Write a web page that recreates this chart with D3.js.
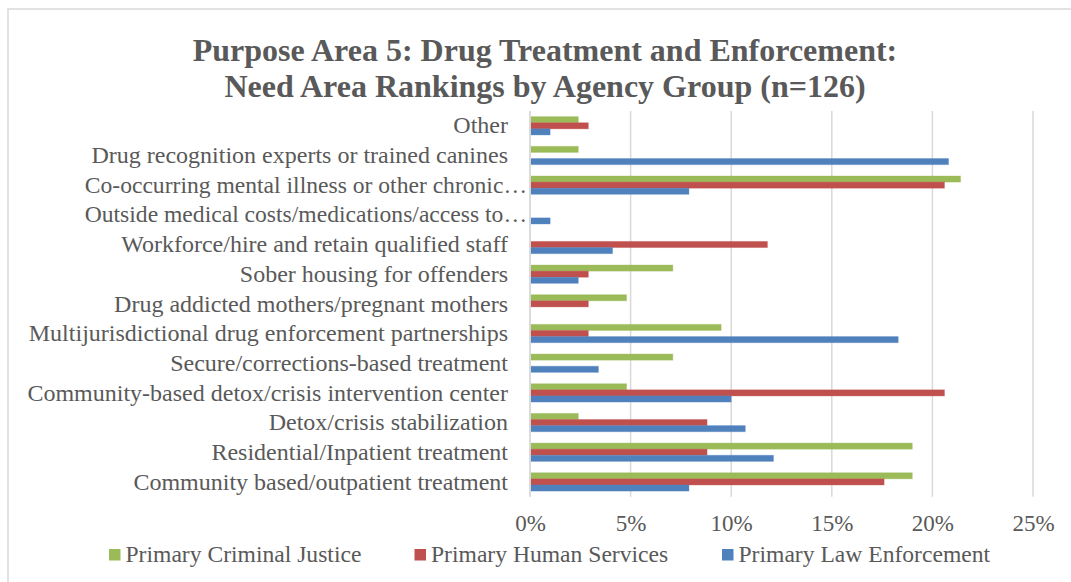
<!DOCTYPE html>
<html><head><meta charset="utf-8">
<script src="https://cdn.jsdelivr.net/npm/d3@7"></script>
<style>
html,body{margin:0;padding:0;background:#fff;}
svg text{font-family:"Liberation Serif","Times New Roman",serif;fill:#595959;}
</style></head>
<body>
<svg id="c" width="1071" height="582"></svg>
<script>
const categories = [
  "Other",
  "Drug recognition experts or trained canines",
  "Co-occurring mental illness or other chronic…",
  "Outside medical costs/medications/access to…",
  "Workforce/hire and retain qualified staff",
  "Sober housing for offenders",
  "Drug addicted mothers/pregnant mothers",
  "Multijurisdictional drug enforcement partnerships",
  "Secure/corrections-based treatment",
  "Community-based detox/crisis intervention center",
  "Detox/crisis stabilization",
  "Residential/Inpatient treatment",
  "Community based/outpatient treatment"
];
const seriesNames = ["Primary Criminal Justice", "Primary Human Services", "Primary Law Enforcement"];
const criminalJustice = [2.4, 2.4, 21.4, 0, 0, 7.1, 4.8, 9.5, 7.1, 4.8, 2.4, 19.0, 19.0];
const humanServices   = [2.9, 0, 20.6, 0, 11.8, 2.9, 2.9, 2.9, 0, 20.6, 8.8, 8.8, 17.6];
const lawEnforcement  = [1.0, 20.8, 7.9, 1.0, 4.1, 2.4, 0, 18.3, 3.4, 10.0, 10.7, 12.1, 7.9];
const xTicks = [0, 5, 10, 15, 20, 25];
const colors = ["#9BBB59", "#C0504D", "#4F81BD"];
const titleLines = ["Purpose Area 5: Drug Treatment and Enforcement:", "Need Area Rankings by Agency Group (n=126)"];

const svg = d3.select("#c");
const seriesData = [criminalJustice, humanServices, lawEnforcement];

// chart border
svg.append("rect").attr("x", 8).attr("y", 9).attr("width", 1100).attr("height", 600)
  .attr("fill", "#fff").attr("stroke", "#d9d9d9").attr("stroke-width", 1.5);

const pLeft = 530, pRight = 1033, pTop = 111, pBottom = 496.7;
const x = d3.scaleLinear().domain([0, 25]).range([pLeft, pRight]);
const y = d3.scaleBand().domain(categories).range([pTop, pBottom]).paddingInner(0.383).paddingOuter(0.19);
const ys = d3.scaleBand().domain(d3.range(3)).range([0, y.bandwidth()]);

// title
svg.append("text").attr("x", 545).attr("text-anchor", "middle")
  .style("font-size", "32px").style("font-weight", "bold")
  .selectAll("tspan").data(titleLines).join("tspan")
  .attr("x", 545).attr("y", (d, i) => 61 + i * 36).text(d => d);

// gridlines
svg.append("g").selectAll("line").data(xTicks).join("line")
  .attr("x1", d => x(d)).attr("x2", d => x(d)).attr("y1", pTop).attr("y2", pBottom)
  .attr("stroke", "#d9d9d9").attr("stroke-width", 1.5);

// x axis labels
const xAxis = d3.axisBottom(x).tickValues(xTicks).tickFormat(d => d + "%").tickSize(0).tickPadding(0);
const gx = svg.append("g").attr("transform", `translate(0,${pBottom})`).call(xAxis);
gx.select(".domain").remove();
gx.selectAll("text").attr("dy", null).attr("y", 34).style("font-size", "23px").style("font-family", null).attr("fill", "#595959");

// bars
const groups = svg.append("g").selectAll("g").data(seriesData).join("g")
  .attr("fill", (d, i) => colors[i]).attr("stroke", (d, i) => colors[i])
  .attr("stroke-opacity", 0.35).attr("stroke-width", 1);
groups.each(function(vals, si) {
  d3.select(this).selectAll("rect").data(vals.map((v, ci) => ({v, c: categories[ci]})).filter(d => d.v > 0))
    .join("rect")
    .attr("x", x(0) + 1).attr("y", d => y(d.c) + ys(si))
    .attr("width", d => x(d.v) - x(0) - 1).attr("height", ys.bandwidth());
});

// y labels
const yAxis = d3.axisLeft(y).tickSize(0).tickPadding(0);
const gy = svg.append("g").call(yAxis);
gy.select(".domain").remove();
gy.selectAll("text")
  .attr("x", d => d.endsWith("…") ? pLeft - 3 : pLeft - 22)
  .attr("dy", "0.32em")
  .style("font-size", d => d.endsWith("…") ? "23.6px" : "24px").style("font-family", null).attr("fill", "#595959");
// axis line at 0
svg.append("line").attr("x1", x(0)).attr("x2", x(0)).attr("y1", pTop).attr("y2", pBottom)
  .attr("stroke", "#d9d9d9").attr("stroke-width", 1.5);

// legend
const legendX = [109, 414.5, 722];
const lg = svg.append("g").selectAll("g").data(seriesNames).join("g")
  .attr("transform", (d, i) => `translate(${legendX[i]},549)`);
lg.append("rect").attr("width", 11.5).attr("height", 11.5).attr("fill", (d, i) => colors[i]);
lg.append("text").attr("x", 16.5).attr("y", 12.5).style("font-size", "23.6px").text(d => d);
</script>
</body></html>
